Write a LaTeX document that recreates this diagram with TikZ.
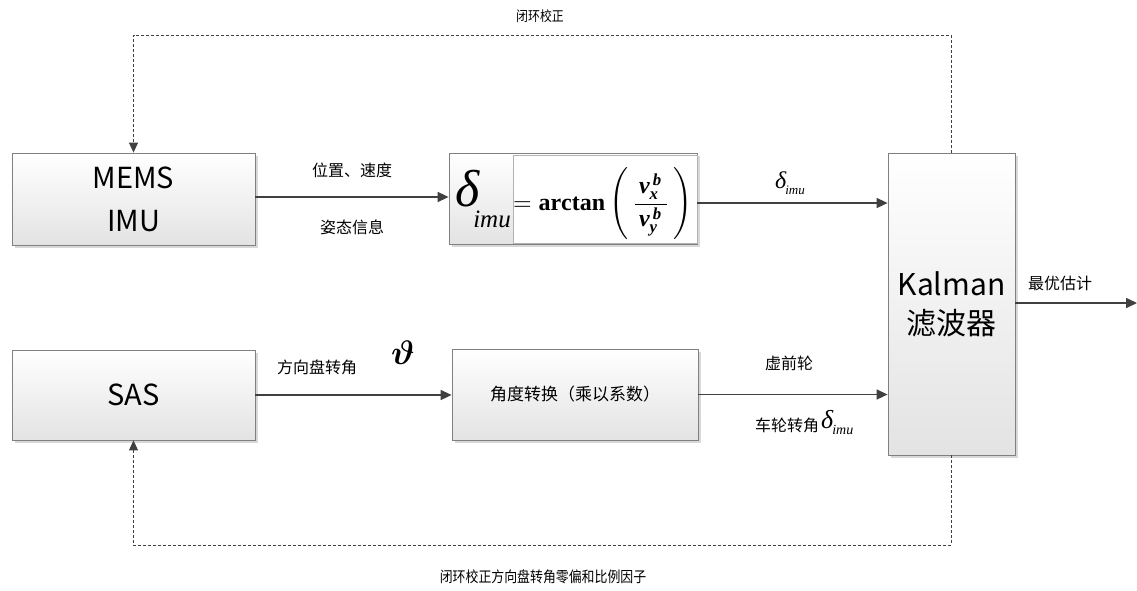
\documentclass[tikz,border=0pt]{standalone}
\usepackage{fontspec}
\usepackage{amsmath}
\usetikzlibrary{arrows.meta,shadows}
\setmainfont{Liberation Serif}
\newfontfamily\cjk{Noto Sans CJK SC}
\newfontfamily\tms{Liberation Serif}
\newcommand{\fsz}[1]{\fontsize{#1}{#1}\selectfont}
\newcommand{\dimu}[3]{{\tms\itshape\fsz{#1}δ\kern-0.04em\raisebox{-#3}{\fsz{#2}imu}}}
\newcommand{\bv}[1]{\text{\bfseries\itshape #1}}
\definecolor{arrc}{RGB}{64,64,64}
\definecolor{bordc}{RGB}{128,128,128}
\begin{document}
\begin{tikzpicture}[x=1pt,y=-1pt,
  box/.style={draw=bordc, line width=0.8pt, top color=white, bottom color=black!11, rectangle, inner sep=0pt,
    drop shadow={shadow xshift=2.5pt,shadow yshift=-2.5pt,fill=black!30,opacity=0.5}},
  arr/.style={draw=arrc, line width=1.6pt, -{Triangle[length=11pt,width=10pt]}},
  fb/.style={draw=arrc, line width=1pt, dash pattern=on 3pt off 2pt, -{Triangle[length=10pt,width=9pt]}},
  lbl/.style={font=\cjk\fsz{16}, inner sep=0pt, text=black},
  big/.style={font=\cjk\fontsize{29}{43}\selectfont, align=center}]
\useasboundingbox (0,0) rectangle (1137,590);

% boxes
\node[box, big, minimum width=243pt, minimum height=92pt] (mems) at (133.5,199) {MEMS\\IMU};
\node[box, minimum width=248pt, minimum height=91pt] (formula) at (573,198.5) {};
\node[box, minimum width=127pt, minimum height=302pt, font=\cjk\fontsize{30}{39}\selectfont, align=center] (kal) at (951.5,304) {Kalman\\滤波器};
\node[box, big, minimum width=243pt, minimum height=90pt] (sas) at (133.5,395) {SAS};
\node[box, minimum width=246pt, minimum height=91pt, font=\cjk\fsz{17}] (conv) at (575,394.5) {角度转换（乘以系数）};

% formula content
\fill[white, draw=black!30, line width=0.5pt] ([xshift=64.5pt,yshift=-3pt]formula.north west) rectangle ([xshift=-0.6pt,yshift=1.5pt]formula.south east);
\node[inner sep=0pt] (fd) at (468,189) {\tms\itshape\fsz{52}δ};
\node[inner sep=0pt] (fi) at (492,219) {\tms\itshape\fsz{25}imu};
\node[inner sep=0pt, anchor=west] (fr) at (513,204) {\scalebox{2.4}{$=\mathbf{arctan}\left(\,\dfrac{\,\bv{v}_{\bv{x}}^{\,\bv{b}}\,}{\,\bv{v}_{\bv{y}}^{\,\bv{b}}\,}\,\right)$}};

% connectors
\draw[arr] ([yshift=2pt]mems.east) -- ([yshift=2pt]mems.east -| formula.west);
\draw[arr] ([yshift=-4.5pt]formula.east) -- ([yshift=-4.5pt]formula.east -| kal.west);
\draw[arr] (sas.east) -- (sas.east -| conv.west);
\draw[arr] (conv.east) -- (conv.east -| kal.west);
\coordinate (out) at (1137,303);
\draw[arr] (kal.east |- out) -- (out);

% feedback
\coordinate (ctop) at (0,35);
\coordinate (cbot) at (0,545);
\draw[fb] (kal.north) -- (kal.north |- ctop) -| (mems.north);
\draw[fb] (kal.south) -- (kal.south |- cbot) -| (sas.south);

% labels
\node[lbl] (l1) at (352,170) {位置、速度};
\node[lbl] (l2) at (352,227) {姿态信息};
\node[inner sep=0pt, anchor=base] (l3) at (790,188) {\dimu{24}{13}{6pt}};
\node[lbl] (l4) at (317,367) {方向盘转角};
\node[inner sep=0pt] (l5) at (403,353) {\scalebox{3.4}{$\boldsymbol{\vartheta}$}};
\node[lbl] (l6) at (789,363) {虚前轮};
\node[lbl, anchor=west] (l7) at (755,425) {车轮转角};
\node[inner sep=0pt, anchor=base west] (l8) at (821,428) {\dimu{26}{14}{6pt}};
\node[lbl] (l9) at (1060,283) {最优估计};
\node[inner sep=0pt, font=\cjk\fsz{14}] (t1) at (540,16) {\scalebox{0.85}[1]{闭环校正}};
\node[inner sep=0pt, font=\cjk\fsz{15}] (t2) at (543,577) {\scalebox{0.86}[1]{闭环校正方向盘转角零偏和比例因子}};
\end{tikzpicture}
\end{document}
